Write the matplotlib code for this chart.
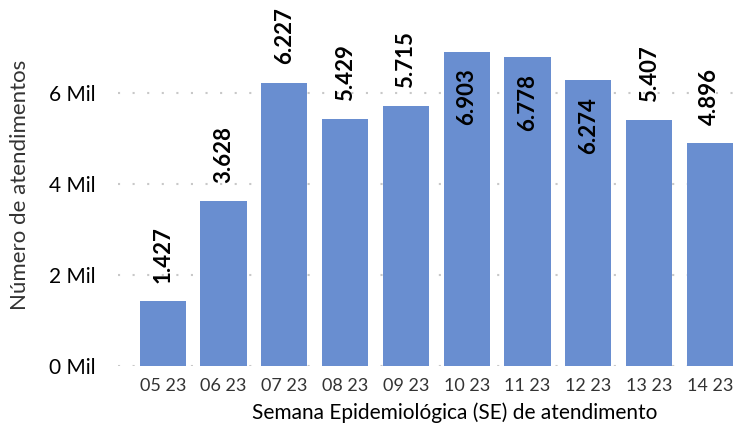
import matplotlib.pyplot as plt
from matplotlib.ticker import FuncFormatter

plt.rcParams['font.family'] = ['Lato', 'DejaVu Sans']

# données
semanas = ["05 23", "06 23", "07 23", "08 23", "09 23", "10 23", "11 23", "12 23", "13 23", "14 23"]
atendimentos = [1427, 3628, 6227, 5429, 5715, 6903, 6778, 6274, 5407, 4896]
rotulos = ["1.427", "3.628", "6.227", "5.429", "5.715", "6.903", "6.778", "6.274", "5.407", "4.896"]
dentro = [False, False, False, False, False, True, True, True, False, False]

fig = plt.figure(figsize=(7.5, 4.32), dpi=100)
ax = fig.add_axes([0.157, 0.153, 0.83, 0.79])

x = range(len(semanas))
bars = ax.bar(x, atendimentos, width=0.76, color="#698ED0", zorder=2)

# rótulos das barras
for b, lab, inside in zip(bars, rotulos, dentro):
    cx = b.get_x() + b.get_width() / 2
    h = b.get_height()
    if inside:
        ax.annotate(lab, (cx, h), xytext=(0, -12), textcoords="offset points",
                    rotation=90, ha="center", va="top", fontsize=16,
                    fontweight="bold", annotation_clip=False)
    else:
        ax.annotate(lab, (cx, h), xytext=(0, 13), textcoords="offset points",
                    rotation=90, ha="center", va="bottom", fontsize=16,
                    fontweight="bold", annotation_clip=False)

ax.set_xlim(-0.74, 9.5)
ax.set_ylim(0, 7500)
ax.set_yticks([0, 2000, 4000, 6000])
ax.yaxis.set_major_formatter(FuncFormatter(lambda v, p: f"{int(v / 1000)} Mil"))
ax.set_xticks(list(x))
ax.set_xticklabels(semanas)
ax.tick_params(axis="both", length=0, labelsize=13, colors="#333333")
ax.tick_params(axis="y", pad=16, labelcolor="black", labelsize=15)
ax.tick_params(axis="x", pad=9)

ax.grid(axis="y", color="#c8c8c8", linestyle=(0, (1, 6)), linewidth=1.5, zorder=0)
for s in ax.spines.values():
    s.set_visible(False)

ax.set_ylabel("Número de atendimentos", fontsize=16, color="#333333")
ax.set_xlabel("Semana Epidemiológica (SE) de atendimento", fontsize=15, color="black")
ax.yaxis.set_label_coords(-0.141, 0.53)
ax.xaxis.set_label_coords(0.542, -0.108)

fig.savefig("out.png", dpi=100)
